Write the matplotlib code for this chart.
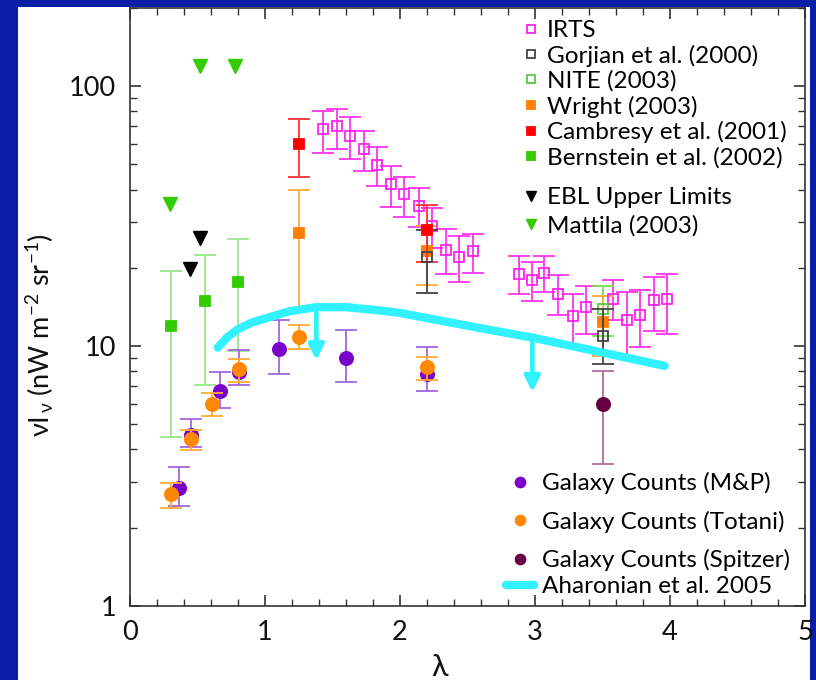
import matplotlib
matplotlib.use("Agg")
import matplotlib.pyplot as plt
import numpy as np
from matplotlib.patches import Rectangle
from matplotlib.ticker import MultipleLocator, LogLocator, NullFormatter, FixedLocator, FixedFormatter

FONT = "Lato"
plt.rcParams['font.family'] = [FONT, 'DejaVu Sans']
plt.rcParams['mathtext.fontset'] = 'custom'
plt.rcParams['mathtext.rm'] = FONT
plt.rcParams['mathtext.it'] = FONT
plt.rcParams['mathtext.sf'] = FONT

# ---------------- data ----------------
irts_x = [1.43, 1.53, 1.63, 1.73, 1.83, 1.93, 2.03, 2.14, 2.24, 2.34, 2.44, 2.54,
          2.88, 2.98, 3.07, 3.17, 3.28, 3.38, 3.58, 3.68, 3.78, 3.88, 3.98]
irts_y = [68.2, 70.0, 64.5, 57.1, 49.9, 42.1, 38.3, 34.5, 28.9, 23.5, 22.0, 23.1,
          19.0, 18.0, 19.1, 15.9, 13.0, 14.1, 15.1, 12.6, 13.1, 15.0, 15.1]
irts_hi = [80.6, 81.9, 75.8, 67.4, 58.1, 49.2, 44.7, 40.5, 34.1, 28.3, 26.5, 26.9,
           22.2, 21.0, 22.1, 18.7, 15.9, 17.0, 17.9, 16.1, 16.4, 18.4, 18.9]
irts_lo = [55.4, 57.1, 52.6, 47.3, 41.1, 34.2, 31.5, 28.7, 23.9, 18.9, 17.6, 19.1,
           15.8, 14.95, 16.2, 13.1, 10.0, 11.1, 12.6, 9.07, 9.9, 11.4, 11.1]

gorjian_x = [2.2, 3.5]
gorjian_y = [22.0, 10.9]
gorjian_lo = [16.0, 8.5]
gorjian_hi = [28.0, 13.9]

nite_x = [3.5]
nite_y = [13.9]
nite_lo = [10.9]
nite_hi = [17.0]

wright_x = [1.25, 2.2, 3.5]
wright_y = [27.1, 23.3, 12.4]
wright_lo = [14.0, 17.1, 9.15]
wright_hi = [39.7, 29.0, 15.6]

cambresy_x = [1.25, 2.2]
cambresy_y = [60.0, 28.0]
cambresy_lo = [44.7, 21.0]
cambresy_hi = [75.0, 34.8]

bernstein_x = [0.305, 0.555, 0.80]
bernstein_y = [11.9, 14.9, 17.6]
bernstein_lo = [4.47, 7.1, 9.56]
bernstein_hi = [19.4, 22.4, 25.7]

ebl_x = [0.444, 0.515]
ebl_y = [19.8, 26.1]

mattila_x = [0.298, 0.522, 0.776]
mattila_y = [35.1, 120.0, 120.0]

mp_x = [0.36, 0.45, 0.67, 0.81, 1.10, 1.60, 2.20]
mp_y = [2.85, 4.56, 6.71, 7.94, 9.69, 8.99, 7.78]
mp_lo = [2.43, 4.07, 5.77, 7.06, 7.78, 7.25, 6.68]
mp_hi = [3.42, 5.25, 7.94, 9.62, 12.6, 11.56, 9.91]

totani_x = [0.30, 0.45, 0.61, 0.81, 1.25, 2.20]
totani_y = [2.69, 4.38, 5.97, 8.12, 10.8, 8.3]
totani_lo = [2.38, 3.97, 5.38, 7.25, 9.77, 7.42]
totani_hi = [2.98, 4.74, 6.6, 8.87, 12.0, 9.07]

spitzer_x = [3.5]
spitzer_y = [6.0]
spitzer_lo = [3.5]
spitzer_hi = [8.0]

ahar_x = [0.65, 0.72, 0.80, 0.90, 1.01, 1.18, 1.38, 1.60, 1.85, 2.00, 2.20, 2.60, 2.98, 3.48, 3.96]
ahar_y = [9.86, 10.8, 11.6, 12.3, 12.8, 13.6, 14.1, 14.1, 13.7, 13.4, 12.8, 11.7, 10.77, 9.48, 8.38]

arrow_x = [1.38, 2.98]
arrow_from = [14.1, 10.77]
arrow_to = [8.8, 6.65]

# ---------------- figure ----------------
W, H = 816, 680
fig = plt.figure(figsize=(W / 100, H / 100), dpi=100, facecolor='#0a1ea8')
fig.patches.append(Rectangle((18 / W, 0), (810 - 18) / W, (H - 7) / H,
                             transform=fig.transFigure, facecolor='white',
                             edgecolor='none', zorder=-10))
ax_l, ax_r, ax_t, ax_b = 130, 805, 8, 605.7
ax = fig.add_axes([ax_l / W, 1 - ax_b / H, (ax_r - ax_l) / W, (ax_b - ax_t) / H])
ax.set_facecolor('white')
ax.set_yscale('log')
ax.set_xlim(0, 5)
ax.set_ylim(1, 200)


def eb(x, y, lo, hi, marker, mfc, mec, ecol, ms, label, z=3):
    x = np.asarray(x); y = np.asarray(y); lo = np.asarray(lo); hi = np.asarray(hi)
    return ax.errorbar(x, y, yerr=[y - lo, hi - y], fmt=marker, mfc=mfc, mec=mec,
                       mew=1.3, ms=ms, ecolor=ecol, elinewidth=1.3, capsize=8,
                       capthick=1.3, label=label, zorder=z)


h_irts = eb(irts_x, irts_y, irts_lo, irts_hi, 's', 'none', '#ff22ee', '#ff33ee', 7, 'IRTS')
h_gor = eb(gorjian_x, gorjian_y, gorjian_lo, gorjian_hi, 's', 'none', '#444444', '#444444', 7,
           'Gorjian et al. (2000)', z=4)
h_nite = eb(nite_x, nite_y, nite_lo, nite_hi, 's', 'none', '#55cc44', '#77dd55', 7, 'NITE (2003)')
h_wr = eb(wright_x, wright_y, wright_lo, wright_hi, 's', '#ff8000', '#ff8000', '#ffaa33', 7,
          'Wright (2003)')
h_cam = eb(cambresy_x, cambresy_y, cambresy_lo, cambresy_hi, 's', '#ff0000', '#ff0000', '#ff3333', 7,
           'Cambresy et al. (2001)', z=4)
h_ber = eb(bernstein_x, bernstein_y, bernstein_lo, bernstein_hi, 's', '#33cc00', '#33cc00', '#99e68a', 7,
           'Bernstein et al. (2002)')
h_ebl, = ax.plot(ebl_x, ebl_y, 'v', color='black', ms=10, ls='none', label='EBL Upper Limits')
h_mat, = ax.plot(mattila_x, mattila_y, 'v', color='#33cc00', ms=10, ls='none', label='Mattila (2003)')

h_mp = eb(mp_x, mp_y, mp_lo, mp_hi, 'o', '#7a00cc', '#7a00cc', '#a566e0', 9.5, 'Galaxy Counts (M&P)')
h_tot = eb(totani_x, totani_y, totani_lo, totani_hi, 'o', '#ff8800', '#ff8800', '#ffaa33', 9.5,
           'Galaxy Counts (Totani)', z=4)
h_sp = eb(spitzer_x, spitzer_y, spitzer_lo, spitzer_hi, 'o', '#660044', '#660044', '#b070a0', 9.5,
          'Galaxy Counts (Spitzer)')
h_ah, = ax.plot(ahar_x, ahar_y, color='#33f2ff', lw=6, solid_capstyle='round',
                solid_joinstyle='round', label='Aharonian et al. 2005', zorder=5)
for xa, y0, y1 in zip(arrow_x, arrow_from, arrow_to):
    ax.annotate('', xy=(xa, y1), xytext=(xa, y0),
                arrowprops=dict(arrowstyle='-|>,head_length=0.9,head_width=0.45',
                                color='#33f2ff', lw=3.5, shrinkA=0, shrinkB=0),
                zorder=5)

# ---------------- axes styling ----------------
for s in ax.spines.values():
    s.set_color('#333333')
    s.set_linewidth(1.2)
ax.xaxis.set_major_locator(MultipleLocator(1))
ax.xaxis.set_minor_locator(MultipleLocator(0.2))
ax.yaxis.set_major_locator(FixedLocator([1, 10, 100]))
ax.yaxis.set_major_formatter(FixedFormatter(['1', '10', '100']))
ax.yaxis.set_minor_locator(LogLocator(base=10, subs=np.arange(2, 10)))
ax.yaxis.set_minor_formatter(NullFormatter())
ax.tick_params(which='both', direction='in', top=True, right=True, colors='#333333',
               labelcolor='#111111', labelsize=19.5)
ax.tick_params(which='major', length=8, width=1.2, pad=10)
ax.tick_params(which='minor', length=5, width=1.0)

ax.set_ylabel(r'$\nu I_{\,\nu}$ (nW m$^{-2}$ sr$^{-1}$)', fontsize=19.5, color='#111111')
ax.yaxis.set_label_coords((40 - ax_l) / (ax_r - ax_l), (ax_b - 335) / (ax_b - ax_t))
ax.yaxis.label.set_va('center')
ax.set_xlabel(r'$\lambda$', fontsize=22, color='#111111')
ax.xaxis.set_label_coords((440 - ax_l) / (ax_r - ax_l), (ax_b - 667) / (ax_b - ax_t))
ax.xaxis.label.set_va('center')

# ---------------- legends ----------------
def px2ax(px, py):
    return ((px - ax_l) / (ax_r - ax_l), (ax_b - py) / (ax_b - ax_t))

FS = 17.5
common = dict(frameon=False, fontsize=FS, handlelength=0.7, handletextpad=0.3,
              borderpad=0, borderaxespad=0, markerscale=0.75, loc='upper left')
leg1 = ax.legend([h_irts[0], h_gor[0], h_nite[0], h_wr[0], h_cam[0], h_ber[0]],
                 ['IRTS', 'Gorjian et al. (2000)', 'NITE (2003)', 'Wright (2003)',
                  'Cambresy et al. (2001)', 'Bernstein et al. (2002)'],
                 bbox_to_anchor=px2ax(522.5, 20), labelspacing=0.15, **common)
ax.add_artist(leg1)
leg2 = ax.legend([h_ebl, h_mat], ['EBL Upper Limits', 'Mattila (2003)'],
                 bbox_to_anchor=px2ax(522.5, 187), labelspacing=0.3, **common)
ax.add_artist(leg2)
common3 = dict(frameon=False, fontsize=FS, handlelength=1.15, handletextpad=0.33,
               borderpad=0, borderaxespad=0, markerscale=0.75, loc='upper left')
leg3 = ax.legend([h_mp[0], h_tot[0], h_sp[0]],
                 ['Galaxy Counts (M&P)', 'Galaxy Counts (Totani)', 'Galaxy Counts (Spitzer)'],
                 bbox_to_anchor=px2ax(506, 472), labelspacing=0.68, **common3)
ax.add_artist(leg3)
leg4 = ax.legend([h_ah], ['Aharonian et al. 2005'],
                 bbox_to_anchor=px2ax(506, 576), **common3)

fig.savefig('out.png', dpi=100, facecolor=fig.get_facecolor())
